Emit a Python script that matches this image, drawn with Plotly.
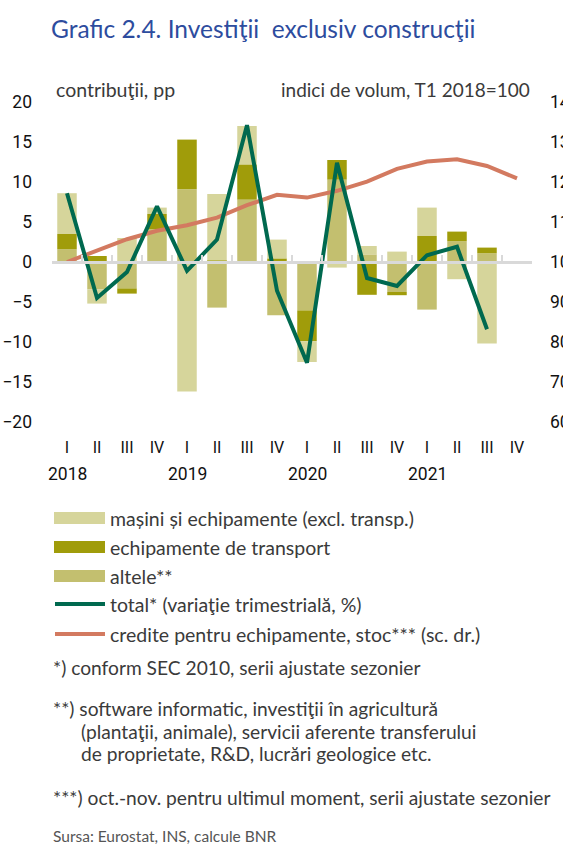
import plotly.graph_objects as go

# ---------------- data ----------------
quarters = ["I", "II", "III", "IV", "I", "II", "III", "IV",
            "I", "II", "III", "IV", "I", "II", "III", "IV"]
years = ["2018", "2019", "2020", "2021"]
year_start_idx = [0, 4, 8, 12]

masini = [5.1, -1.8, 3.0, 0.8, -16.2, 8.3, 4.8, 2.35, -2.6, -0.7, 1.05, 1.3, 3.55, -2.15, -10.2, None]
transport = [1.9, 0.75, -0.65, 1.9, 6.2, 0.2, 4.4, 0.45, -3.85, 2.45, -4.1, -0.4, 3.25, 1.2, 0.7, None]
altele = [1.6, -3.4, -3.3, 4.1, 9.1, -5.7, 7.8, -6.65, -6.05, 10.3, 0.95, -3.75, -5.95, 2.6, 1.1, None]
total = [8.6, -4.5, -1.25, 6.95, -1.1, 2.8, 17.1, -3.6, -12.6, 12.4, -2.0, -3.0, 0.85, 1.9, -8.4, None]
credite = [100.0, 102.8, 105.7, 107.8, 109.2, 111.1, 114.2, 116.8, 116.1, 117.8, 120.1, 123.3, 125.1, 125.7, 124.0, 120.9]

left_ticks = [-20, -15, -10, -5, 0, 5, 10, 15, 20]
right_ticks = [60, 70, 80, 90, 100, 110, 120, 130, 140]

# ---------------- style ----------------
C_MAS = "#D6D59B"
C_TR = "#A09C0A"
C_ALT = "#C3BF6F"
C_TOT = "#00694F"
C_CR = "#D37A60"
C_TXT = "#3A3A3A"
C_TITLE = "#2D4C9E"
C_GRID = "#D9D9D9"
NUM_FONT = "Liberation Sans Narrow, Arial Narrow, Roboto, sans-serif"
TXT_FONT = "Lato, Open Sans, sans-serif"

W, H = 563, 845
L, R, T, B = 52, 532, 102, 422


def px_x(X):
    return (X - L) / (R - L)


def px_y(Y):
    return (B - Y) / (B - T)


x = list(range(len(quarters)))

fig = go.Figure()
fig.add_bar(x=x, y=altele, marker=dict(color=C_ALT, line=dict(width=0)), name="altele**")
fig.add_bar(x=x, y=transport, marker=dict(color=C_TR, line=dict(width=0)), name="echipamente de transport")
fig.add_bar(x=x, y=masini, marker=dict(color=C_MAS, line=dict(width=0)), name="mașini și echipamente")
fig.add_scatter(x=x, y=credite, yaxis="y2", mode="lines",
                line=dict(color=C_CR, width=4), name="credite")
fig.add_scatter(x=x, y=total, xaxis="x2", yaxis="y3", mode="lines",
                line=dict(color=C_TOT, width=4), name="total")

fig.update_layout(
    width=W, height=H,
    margin=dict(l=L, r=W - R, t=T, b=H - B, autoexpand=False),
    paper_bgcolor="white", plot_bgcolor="white",
    barmode="relative", bargap=0.35,
    showlegend=False,
    xaxis=dict(range=[-0.5, 15.5], tickvals=x, ticktext=quarters, automargin=False,
               showgrid=False, zeroline=False, showline=False, ticks="",
               tickfont=dict(family=NUM_FONT, size=16, color="#111"),
               ticklabelstandoff=14),
    xaxis2=dict(range=[-0.5, 15.5], overlaying="x", anchor="free", position=0.5,
                side="bottom", showgrid=False, zeroline=False, automargin=False,
                showline=True, linecolor=C_GRID, linewidth=3,
                ticks="inside", ticklen=6, tickwidth=2, tickcolor=C_GRID,
                tickvals=[i - 0.5 for i in range(len(quarters) + 1)],
                showticklabels=False),
    yaxis=dict(range=[-20, 20], tickvals=left_ticks, showgrid=False, zeroline=False,
               showline=False, ticks="", automargin=False,
               tickfont=dict(family=NUM_FONT, size=17.5, color="#111"),
               ticklabelstandoff=19),
    yaxis2=dict(range=[60, 140], tickvals=right_ticks, overlaying="y", side="right",
                anchor="x", automargin=False,
                showgrid=False, zeroline=False, showline=False, ticks="",
                tickfont=dict(family=NUM_FONT, size=17.5, color="#111"),
                ticklabelstandoff=17),
    yaxis3=dict(range=[-20, 20], overlaying="y", anchor="x2", visible=False),
)

ann = []
# title
ann.append(dict(text="Grafic 2.4. Investiţii  exclusiv construcţii", x=px_x(49), y=px_y(28),
                xanchor="left", yanchor="middle", showarrow=False,
                font=dict(family=TXT_FONT, size=24.5, color=C_TITLE)))
# axis headers
ann.append(dict(text="contribuţii, pp", x=px_x(54), y=px_y(89), xanchor="left", yanchor="middle",
                showarrow=False, font=dict(family=TXT_FONT, size=19.5, color=C_TXT)))
ann.append(dict(text="indici de volum, T1 2018=100", x=px_x(532), y=px_y(89), xanchor="right",
                yanchor="middle", showarrow=False, font=dict(family=TXT_FONT, size=19, color=C_TXT)))
# years
for yr, idx in zip(years, year_start_idx):
    ann.append(dict(text=yr, x=idx, xref="x", y=px_y(474), yanchor="middle", xanchor="center",
                    showarrow=False, font=dict(family=NUM_FONT, size=17.5, color="#111")))

# legend (manual)
legend_items = [
    ("bar", C_MAS, "mașini și echipamente (excl. transp.)", 518),
    ("bar", C_TR, "echipamente de transport", 547),
    ("bar", C_ALT, "altele**", 576),
    ("line", C_TOT, "total* (variaţie trimestrială, %)", 604),
    ("line", C_CR, "credite pentru echipamente, stoc*** (sc. dr.)", 634),
]
shapes = []
for kind, col, label, yy in legend_items:
    if kind == "bar":
        shapes.append(dict(type="rect", xref="paper", yref="paper",
                           x0=px_x(54), x1=px_x(105), y0=px_y(yy + 6), y1=px_y(yy - 6),
                           fillcolor=col, line=dict(width=0)))
    else:
        shapes.append(dict(type="line", xref="paper", yref="paper",
                           x0=px_x(55), x1=px_x(105), y0=px_y(yy), y1=px_y(yy),
                           line=dict(color=col, width=4)))
    ann.append(dict(text=label, x=px_x(108), y=px_y(yy), xanchor="left", yanchor="middle",
                    showarrow=False, font=dict(family=TXT_FONT, size=19.5, color=C_TXT)))

# footnotes
notes = [
    ("*) conform SEC 2010, serii ajustate sezonier", 51, 667),
    ("**) software informatic, investiţii în agricultură", 51, 708),
    ("(plantaţii, animale), servicii aferente transferului", 79, 731),
    ("de proprietate, R&D, lucrări geologice etc.", 79, 753),
    ("***) oct.-nov. pentru ultimul moment, serii ajustate sezonier", 51, 797),
]
for t, xx, yy in notes:
    ann.append(dict(text=t, x=px_x(xx), y=px_y(yy), xanchor="left", yanchor="middle",
                    showarrow=False, font=dict(family=TXT_FONT, size=19.2, color=C_TXT)))
ann.append(dict(text="Sursa: Eurostat, INS, calcule BNR", x=px_x(51), y=px_y(836), xanchor="left",
                yanchor="middle", showarrow=False, font=dict(family=TXT_FONT, size=15.5, color="#555")))

for a in ann:
    a.setdefault("xref", "paper")
    a.setdefault("yref", "paper")

fig.update_layout(annotations=ann, shapes=shapes)

fig.write_html("out.html",
               config={"displayModeBar": False},
               post_script="document.body.style.margin='0px';document.body.style.overflow='hidden';")
